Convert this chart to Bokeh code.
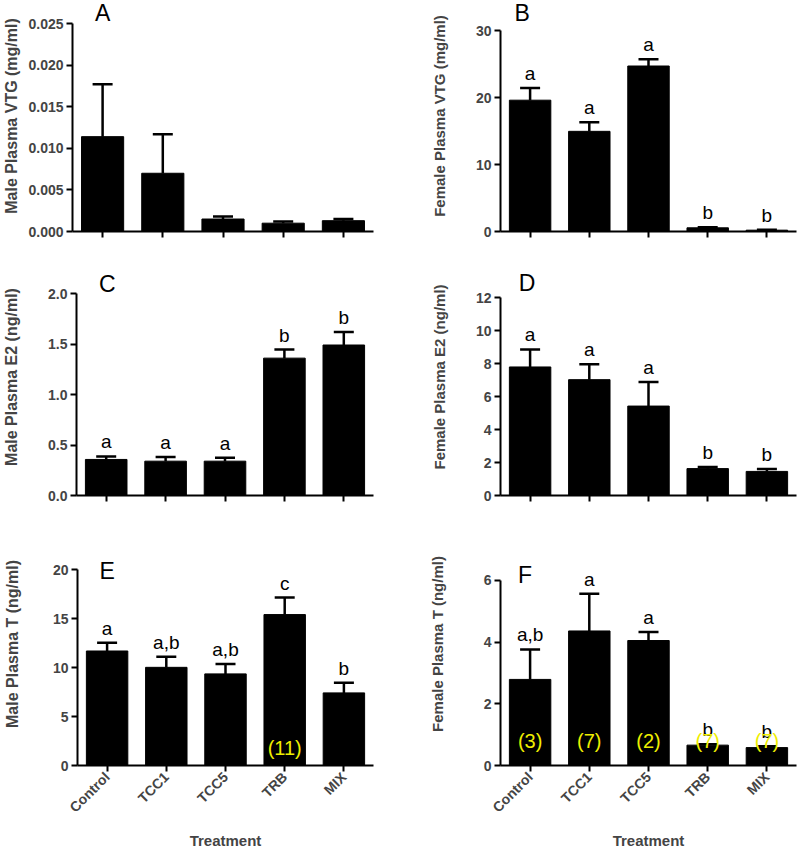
import math
from bokeh.plotting import figure
from bokeh.layouts import column, row
from bokeh.models import FactorRange, Range1d, FixedTicker, NumeralTickFormatter
from bokeh.core.properties import value
from bokeh.embed import file_html
from bokeh.resources import INLINE

treatments = ["Control", "TCC1", "TCC5", "TRB", "MIX"]

# Panel A: male plasma VTG (mg/ml)
male_vtg = [0.0114, 0.0070, 0.0015, 0.0010, 0.0013]
male_vtg_sem = [0.0063, 0.0047, 0.0003, 0.0002, 0.0002]
# Panel B: female plasma VTG (mg/ml)
female_vtg = [19.6, 14.95, 24.7, 0.55, 0.2]
female_vtg_sem = [1.8, 1.35, 1.0, 0.1, 0.05]
female_vtg_sig = ["a", "a", "a", "b", "b"]
# Panel C: male plasma E2 (ng/ml)
male_e2 = [0.357, 0.34, 0.34, 1.36, 1.49]
male_e2_sem = [0.03, 0.04, 0.033, 0.085, 0.13]
male_e2_sig = ["a", "a", "a", "b", "b"]
# Panel D: female plasma E2 (ng/ml)
female_e2 = [7.79, 7.02, 5.42, 1.63, 1.46]
female_e2_sem = [1.06, 0.93, 1.46, 0.1, 0.14]
female_e2_sig = ["a", "a", "a", "b", "b"]
# Panel E: male plasma T (ng/ml)
male_t = [11.7, 10.03, 9.36, 15.42, 7.42]
male_t_sem = [0.84, 1.07, 1.01, 1.74, 1.04]
male_t_sig = ["a", "a,b", "a,b", "c", "b"]
male_t_n = ["", "", "", "(11)", ""]
# Panel F: female plasma T (ng/ml)
female_t = [2.79, 4.36, 4.05, 0.66, 0.58]
female_t_sem = [0.97, 1.21, 0.28, 0.03, 0.04]
female_t_sig = ["a,b", "a", "a", "b", "b"]
female_t_n = ["(3)", "(7)", "(2)", "(7)", "(7)"]

FONT = "Liberation Sans"


def panel(vals, sems, sig, nlab, n_y, ymax, step, fmt, ylabel, ylab_size, ylab_standoff,
          letter, ldx, ldy, w, h, bl, br, bb, zero_px, max_px, xlabels):
    y_end = ymax * zero_px / (zero_px - max_px)
    p = figure(x_range=FactorRange(*treatments, range_padding=0),
               y_range=Range1d(0, y_end), width=w, height=h,
               min_border_left=bl, min_border_right=br, min_border_top=0,
               min_border_bottom=bb, output_backend="svg", toolbar_location=None)
    p.outline_line_color = None
    p.grid.visible = False
    p.background_fill_color = "white"
    p.border_fill_color = "white"

    tops = [v + s for v, s in zip(vals, sems)]
    p.vbar(x=treatments, top=vals, width=0.7, fill_color="black", line_color="black", line_width=1)
    p.segment(x0=treatments, y0=vals, x1=treatments, y1=tops, line_color="black", line_width=2.5)
    p.scatter(x=treatments, y=tops, marker="dash", size=20, line_color="black", line_width=2.5)

    if sig is not None:
        p.text(x=treatments, y=tops, text=sig, text_align="center", text_baseline="bottom",
               y_offset=-4, text_font=value(FONT), text_font_size="19px", text_color="black")
    if nlab is not None:
        nx = [t for t, s in zip(treatments, nlab) if s]
        ns = [s for s in nlab if s]
        p.text(x=nx, y=[n_y] * len(nx), text=ns, text_align="center",
               text_baseline="middle", text_font=value(FONT), text_font_size="20px",
               text_color="#eeee00")
    p.text(x=[treatments[0]], y=[ymax], text=[letter], text_align="center", text_baseline="middle",
           x_offset=ldx, y_offset=ldy, text_font=value(FONT), text_font_size="23px",
           text_color="black")

    ya = p.yaxis[0]
    ya.bounds = (0, ymax)
    nt = int(round(ymax / step))
    ya.ticker = FixedTicker(ticks=[round(i * step, 6) for i in range(nt + 1)], minor_ticks=[])
    ya.formatter = NumeralTickFormatter(format=fmt)
    ya.axis_label = ylabel
    ya.axis_label_text_font = FONT
    ya.axis_label_text_font_style = "bold"
    ya.axis_label_text_font_size = ylab_size
    ya.axis_label_standoff = ylab_standoff
    ya.major_label_text_font = FONT
    ya.major_label_text_font_style = "bold"
    ya.major_label_text_font_size = "14px"
    ya.major_label_standoff = 3

    xa = p.xaxis[0]
    for ax in (xa, ya):
        ax.axis_line_width = 2
        ax.axis_line_color = "black"
        ax.major_tick_line_width = 2
        ax.major_tick_line_color = "black"
        ax.major_tick_out = 6
        ax.major_tick_in = 0
        ax.minor_tick_line_color = None
    if xlabels:
        xa.major_label_orientation = math.pi / 4
        xa.major_label_text_font = FONT
        xa.major_label_text_font_style = "bold"
        xa.major_label_text_font_size = "14px"
        xa.major_label_standoff = 3
        xa.axis_label = "Treatment"
        xa.axis_label_text_font = FONT
        xa.axis_label_text_font_style = "bold"
        xa.axis_label_text_font_size = "15px"
        xa.axis_label_standoff = 8
    else:
        xa.major_label_text_font_size = "1px"
        xa.major_label_text_color = None
        xa.major_label_standoff = 0
    return p


# left column: frames aligned by the layout; right column likewise
pA = panel(male_vtg, male_vtg_sem, None, None, 0, 0.025, 0.005, "0.000",
           "Male Plasma VTG (mg/ml)", "16px", 5, "A", 0, -11,
           400, 258, 70, 27, 27, 231, 23, False)
pB = panel(female_vtg, female_vtg_sem, female_vtg_sig, None, 0, 30, 10, "0",
           "Female Plasma VTG (mg/ml)", "15px", 25, "B", -8, -18,
           400, 258, 100, 4, 27, 231, 30, False)
pC = panel(male_e2, male_e2_sem, male_e2_sig, None, 0, 2.0, 0.5, "0.0",
           "Male Plasma E2 (ng/ml)", "16px", 25, "C", 1, -10,
           400, 264, 70, 27, 27, 237, 35, False)
pD = panel(female_e2, female_e2_sem, female_e2_sig, None, 0, 12, 2, "0",
           "Female Plasma E2 (ng/ml)", "15px", 25, "D", -3, -15,
           400, 264, 100, 4, 27, 237, 39, False)
pE = panel(male_t, male_t_sem, male_t_sig, male_t_n, 1.77, 20, 5, "0",
           "Male Plasma T (ng/ml)", "16px", 29, "E", 0, 1,
           400, 330, 70, 27, 78, 252, 49, True)
pF = panel(female_t, female_t_sem, female_t_sig, female_t_n, 0.79, 6, 2, "0",
           "Female Plasma T (ng/ml)", "15px", 35, "F", -5, -5,
           400, 330, 100, 4, 78, 252, 60, True)

layout = column(row(pA, pB, spacing=0), row(pC, pD, spacing=0), row(pE, pF, spacing=0), spacing=0)
open("out.html", "w").write(file_html(layout, INLINE))
